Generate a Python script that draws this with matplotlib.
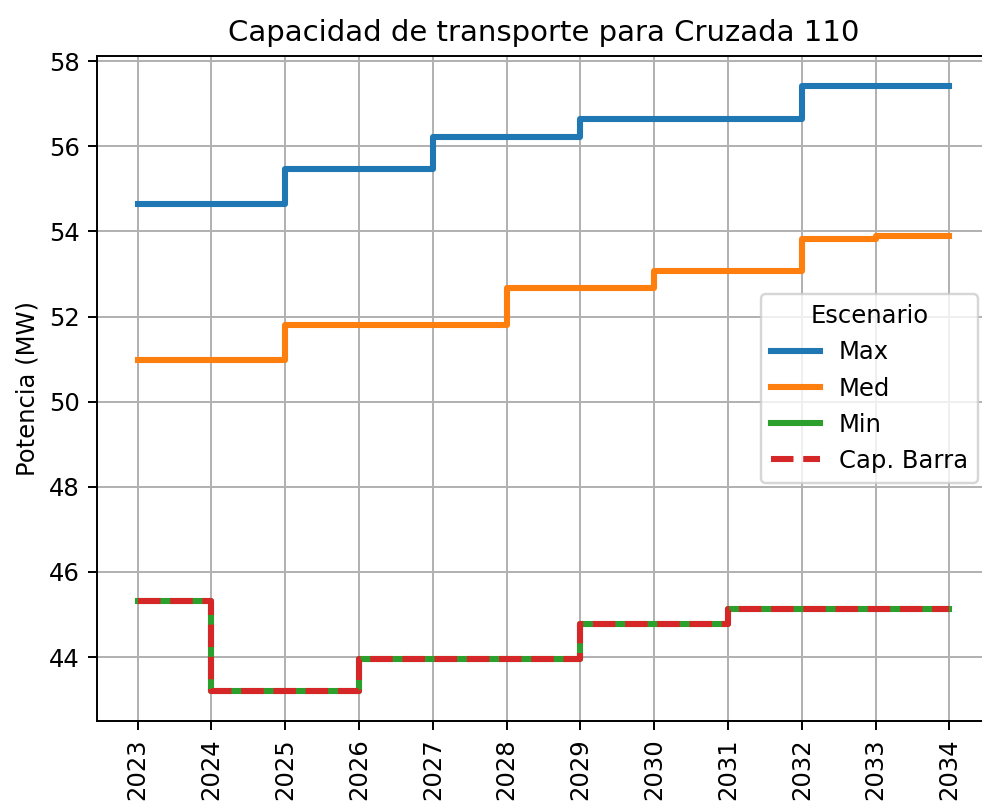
import matplotlib
matplotlib.use("Agg")
import matplotlib.pyplot as plt

years = [2023, 2024, 2025, 2026, 2027, 2028, 2029, 2030, 2031, 2032, 2033, 2034]
cap_max = [54.65, 54.65, 55.46, 55.46, 56.22, 56.22, 56.64, 56.64, 56.64, 57.41, 57.41, 57.41]
cap_med = [50.98, 50.98, 51.79, 51.79, 51.79, 52.67, 52.67, 53.06, 53.06, 53.81, 53.90, 53.90]
cap_min = [45.31, 43.21, 43.21, 43.96, 43.96, 43.96, 44.77, 44.77, 45.14, 45.14, 45.14, 45.14]
cap_barra = [45.31, 43.21, 43.21, 43.96, 43.96, 43.96, 44.77, 44.77, 45.14, 45.14, 45.14, 45.14]

dpi = 175
fig = plt.figure(figsize=(982 / dpi, 804 / dpi), dpi=dpi)
ax = fig.add_axes([97 / 982, 1 - 721 / 804, 893 / 982, 665 / 804])

ax.step(years, cap_max, where="post", color="#1f77b4", lw=2.5, label="Max")
ax.step(years, cap_med, where="post", color="#ff7f0e", lw=2.5, label="Med")
ax.step(years, cap_min, where="post", color="#2ca02c", lw=2.5, label="Min")
ax.step(years, cap_barra, where="post", color="#d62728", lw=2.5, ls="--", label="Cap. Barra")

ax.set_xticks(years)
ax.set_xticklabels([str(y) for y in years], rotation=90)
ax.set_ylabel("Potencia (MW)")
ax.set_title("Capacidad de transporte para Cruzada 110")
ax.grid(True)
ax.legend(title="Escenario", loc="center right")

fig.savefig("out.png", dpi=dpi)
